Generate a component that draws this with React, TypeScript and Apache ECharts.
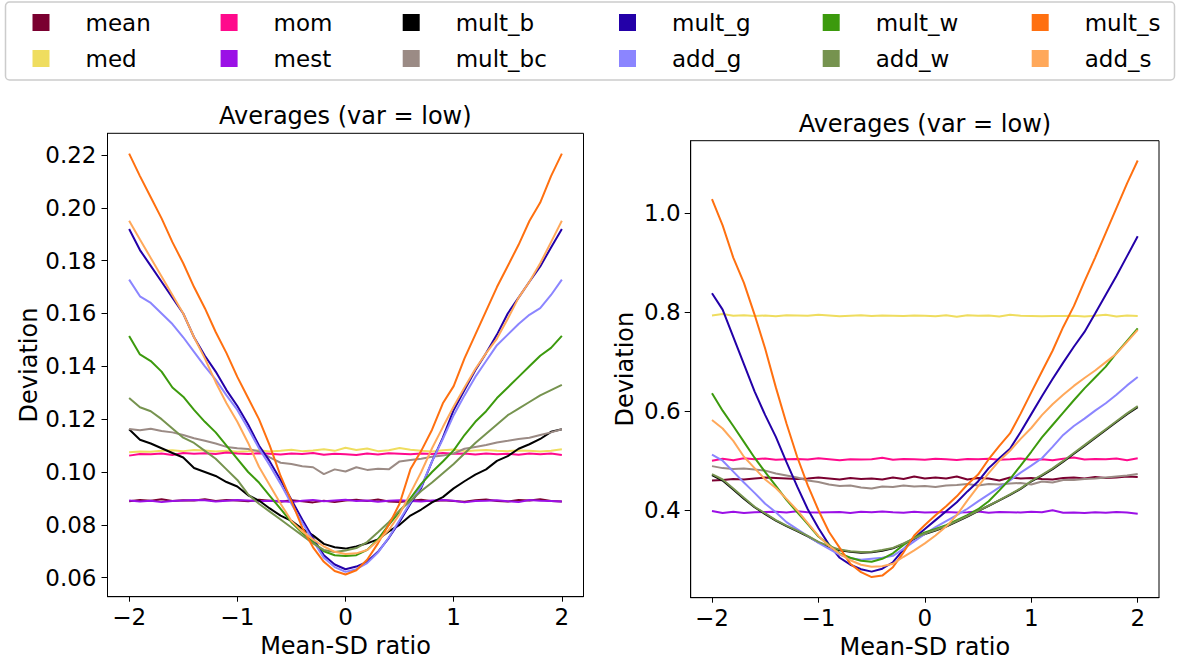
import React, { useEffect, useRef } from "react";
import * as echarts from "echarts";

const xs = [-2.0,-1.9,-1.8,-1.7,-1.6,-1.5,-1.4,-1.3,-1.2,-1.1,-1.0,-0.9,-0.8,-0.7,-0.6,-0.5,-0.4,-0.3,-0.2,-0.1,0.0,0.1,0.2,0.3,0.4,0.5,0.6,0.7,0.8,0.9,1.0,1.1,1.2,1.3,1.4,1.5,1.6,1.7,1.8,1.9,2.0];
const xTicks = [-2, -1, 0, 1, 2];
const yTicksLeft = [0.06, 0.08, 0.1, 0.12, 0.14, 0.16, 0.18, 0.2, 0.22];
const yTicksRight = [0.4, 0.6, 0.8, 1.0];

const seriesNames = ["mean","med","mom","mest","mult_b","mult_bc","mult_g","add_g","mult_w","add_w","mult_s","add_s"];
const seriesColors = ["#7a0030","#efdd5f","#ff0a8c","#9b10e6","#000000","#9b8b85","#2300a8","#8b85ff","#3c9a0d","#76934f","#ff7010","#ffa85a"];
const legendColumns = [["mean","med"],["mom","mest"],["mult_b","mult_bc"],["mult_g","add_g"],["mult_w","add_w"],["mult_s","add_s"]];
const titleText = "Averages (var = low)";
const xName = "Mean-SD ratio";
const yName = "Deviation";

// ---- left panel ----
const meanL = [0.0889,0.0894,0.0891,0.0897,0.0890,0.0893,0.0892,0.0897,0.0890,0.0894,0.0892,0.0889,0.0895,0.0891,0.0887,0.0893,0.0889,0.0885,0.0891,0.0886,0.0892,0.0895,0.0890,0.0896,0.0888,0.0886,0.0891,0.0895,0.0889,0.0893,0.0890,0.0887,0.0893,0.0896,0.0890,0.0888,0.0894,0.0892,0.0897,0.0890,0.0888];
const medL = [0.1075,0.1078,0.1077,0.1080,0.1082,0.1079,0.1083,0.1081,0.1078,0.1080,0.1077,0.1079,0.1082,0.1078,0.1080,0.1084,0.1079,0.1081,0.1086,0.1080,0.1092,0.1083,0.1089,0.1079,0.1082,0.1091,0.1084,0.1080,0.1078,0.1082,0.1085,0.1079,0.1081,0.1083,0.1080,0.1079,0.1081,0.1080,0.1078,0.1080,0.1086];
const momL = [0.1062,0.1068,0.1067,0.1070,0.1064,0.1072,0.1069,0.1071,0.1068,0.1074,0.1070,0.1068,0.1071,0.1069,0.1066,0.1070,0.1068,0.1072,0.1065,0.1069,0.1067,0.1064,0.1070,0.1066,0.1071,0.1069,0.1067,0.1070,0.1068,0.1072,0.1069,0.1070,0.1066,0.1070,0.1067,0.1069,0.1065,0.1070,0.1067,0.1070,0.1064];
const mestL = [0.0892,0.0888,0.0891,0.0886,0.0890,0.0892,0.0894,0.0893,0.0888,0.0891,0.0894,0.0892,0.0889,0.0891,0.0890,0.0886,0.0891,0.0894,0.0889,0.0892,0.0895,0.0890,0.0892,0.0887,0.0891,0.0893,0.0890,0.0888,0.0892,0.0894,0.0891,0.0885,0.0890,0.0891,0.0893,0.0889,0.0886,0.0894,0.0891,0.0890,0.0888];
const multBL = [0.1162,0.1122,0.1108,0.1090,0.1072,0.1055,0.1015,0.1000,0.0985,0.0962,0.0945,0.0912,0.0892,0.0862,0.0835,0.0815,0.0785,0.0760,0.0728,0.0715,0.0710,0.0718,0.0730,0.0745,0.0775,0.0800,0.0835,0.0858,0.0885,0.0905,0.0938,0.0965,0.0990,0.1010,0.1042,0.1060,0.1088,0.1105,0.1125,0.1152,0.1162];
const multBcL = [0.1163,0.1158,0.1164,0.1155,0.1150,0.1140,0.1128,0.1118,0.1108,0.1095,0.1090,0.1087,0.1078,0.1055,0.1035,0.1030,0.1022,0.1018,0.0992,0.1010,0.1002,0.1018,0.1008,0.1012,0.1010,0.1040,0.1045,0.1050,0.1058,0.1062,0.1070,0.1088,0.1095,0.1102,0.1112,0.1118,0.1125,0.1130,0.1140,0.1150,0.1162];
const multGL = [0.1920,0.1840,0.1780,0.1720,0.1660,0.1600,0.1510,0.1440,0.1380,0.1310,0.1250,0.1180,0.1100,0.1040,0.0970,0.0895,0.0820,0.0750,0.0685,0.0650,0.0632,0.0642,0.0660,0.0698,0.0750,0.0812,0.0880,0.0940,0.1040,0.1130,0.1235,0.1310,0.1385,0.1450,0.1520,0.1600,0.1660,0.1720,0.1778,0.1850,0.1920];
const addGL = [0.1728,0.1665,0.1640,0.1600,0.1560,0.1510,0.1455,0.1400,0.1350,0.1290,0.1235,0.1165,0.1090,0.1025,0.0955,0.0880,0.0808,0.0740,0.0675,0.0640,0.0622,0.0632,0.0655,0.0695,0.0752,0.0818,0.0885,0.0945,0.1040,0.1125,0.1215,0.1290,0.1360,0.1420,0.1480,0.1520,0.1560,0.1595,0.1620,0.1670,0.1728];
const multWL = [0.1515,0.1445,0.1420,0.1380,0.1320,0.1285,0.1235,0.1190,0.1150,0.1100,0.1050,0.1000,0.0960,0.0910,0.0860,0.0810,0.0770,0.0735,0.0700,0.0685,0.0682,0.0685,0.0705,0.0745,0.0800,0.0850,0.0900,0.0955,0.1000,0.1040,0.1082,0.1140,0.1190,0.1230,0.1280,0.1320,0.1360,0.1400,0.1440,0.1470,0.1515];
const addWL = [0.1280,0.1245,0.1230,0.1200,0.1165,0.1130,0.1110,0.1080,0.1050,0.1010,0.0970,0.0915,0.0880,0.0850,0.0820,0.0790,0.0760,0.0730,0.0705,0.0697,0.0703,0.0712,0.0735,0.0772,0.0810,0.0855,0.0890,0.0928,0.0960,0.0995,0.1030,0.1070,0.1110,0.1145,0.1180,0.1215,0.1240,0.1265,0.1290,0.1310,0.1330];
const multSL = [0.2205,0.2120,0.2040,0.1960,0.1870,0.1790,0.1700,0.1620,0.1530,0.1450,0.1360,0.1280,0.1200,0.1100,0.0985,0.0890,0.0790,0.0715,0.0660,0.0625,0.0612,0.0628,0.0668,0.0730,0.0800,0.0880,0.1010,0.1080,0.1160,0.1260,0.1325,0.1430,0.1520,0.1610,0.1700,0.1780,0.1860,0.1950,0.2020,0.2120,0.2205];
const addSL = [0.1951,0.1880,0.1810,0.1740,0.1670,0.1600,0.1510,0.1430,0.1340,0.1260,0.1190,0.1110,0.1020,0.0950,0.0880,0.0815,0.0775,0.0745,0.0718,0.0698,0.0690,0.0692,0.0705,0.0740,0.0780,0.0840,0.0920,0.1000,0.1090,0.1170,0.1248,0.1320,0.1390,0.1450,0.1505,0.1580,0.1660,0.1720,0.1790,0.1870,0.1951];

// ---- right panel ----
const meanR = [0.4600,0.4610,0.4630,0.4620,0.4640,0.4660,0.4650,0.4640,0.4630,0.4640,0.4660,0.4640,0.4620,0.4650,0.4630,0.4640,0.4620,0.4660,0.4630,0.4680,0.4640,0.4660,0.4640,0.4680,0.4620,0.4650,0.4640,0.4600,0.4660,0.4640,0.4650,0.4630,0.4620,0.4650,0.4660,0.4640,0.4670,0.4650,0.4660,0.4680,0.4670];
const medR = [0.7930,0.7960,0.7925,0.7935,0.7920,0.7930,0.7915,0.7935,0.7930,0.7925,0.7945,0.7930,0.7915,0.7925,0.7935,0.7920,0.7930,0.7925,0.7920,0.7930,0.7925,0.7915,0.7935,0.7905,0.7935,0.7925,0.7930,0.7910,0.7945,0.7925,0.7920,0.7915,0.7920,0.7920,0.7925,0.7910,0.7925,0.7945,0.7910,0.7930,0.7920];
const momR = [0.5000,0.5040,0.5010,0.5050,0.5030,0.5045,0.5020,0.5030,0.5035,0.5025,0.5050,0.5030,0.5010,0.5030,0.5025,0.5030,0.5060,0.5020,0.5035,0.5030,0.5020,0.5040,0.5030,0.5015,0.5035,0.5030,0.5040,0.5020,0.5030,0.5045,0.5020,0.5030,0.5010,0.5040,0.5065,0.5025,0.5035,0.5030,0.5045,0.5010,0.5050];
const mestR = [0.3985,0.3945,0.3970,0.3945,0.3960,0.3965,0.3970,0.3955,0.3980,0.3960,0.3955,0.3960,0.3965,0.3945,0.3970,0.3960,0.3975,0.3960,0.3950,0.3970,0.3955,0.3960,0.3965,0.3955,0.3960,0.3975,0.3950,0.3965,0.3960,0.3955,0.3970,0.3960,0.4000,0.3950,0.3955,0.3945,0.3960,0.3950,0.3965,0.3955,0.3930];
const multBR = [0.4710,0.4600,0.4420,0.4230,0.4060,0.3920,0.3790,0.3680,0.3580,0.3470,0.3350,0.3260,0.3190,0.3160,0.3140,0.3150,0.3180,0.3230,0.3320,0.3420,0.3520,0.3590,0.3670,0.3770,0.3870,0.3980,0.4090,0.4200,0.4310,0.4430,0.4580,0.4700,0.4830,0.4980,0.5140,0.5300,0.5460,0.5620,0.5780,0.5940,0.6080];
const multBcR = [0.4890,0.4850,0.4830,0.4840,0.4820,0.4800,0.4740,0.4700,0.4660,0.4600,0.4570,0.4520,0.4490,0.4500,0.4460,0.4440,0.4480,0.4470,0.4500,0.4480,0.4490,0.4470,0.4500,0.4510,0.4530,0.4500,0.4530,0.4520,0.4540,0.4550,0.4520,0.4580,0.4560,0.4610,0.4610,0.4630,0.4640,0.4660,0.4680,0.4700,0.4730];
const multGR = [0.8380,0.8050,0.7500,0.6950,0.6400,0.5920,0.5480,0.4970,0.4480,0.4020,0.3640,0.3300,0.3040,0.2900,0.2810,0.2760,0.2820,0.2950,0.3210,0.3440,0.3620,0.3800,0.3980,0.4160,0.4380,0.4580,0.4850,0.5050,0.5240,0.5580,0.5940,0.6300,0.6650,0.6980,0.7300,0.7600,0.7970,0.8350,0.8730,0.9130,0.9530];
const addGR = [0.5120,0.5000,0.4780,0.4560,0.4350,0.4130,0.3960,0.3760,0.3620,0.3480,0.3340,0.3220,0.3100,0.3030,0.3000,0.3020,0.3040,0.3080,0.3220,0.3370,0.3520,0.3660,0.3780,0.3900,0.4030,0.4180,0.4320,0.4460,0.4600,0.4760,0.4900,0.5050,0.5280,0.5520,0.5700,0.5850,0.6010,0.6160,0.6330,0.6520,0.6690];
const multWR = [0.6360,0.6010,0.5700,0.5380,0.5060,0.4770,0.4490,0.4210,0.3960,0.3720,0.3470,0.3300,0.3130,0.3040,0.2980,0.2960,0.3020,0.3130,0.3300,0.3450,0.3550,0.3620,0.3700,0.3800,0.3900,0.4020,0.4180,0.4400,0.4630,0.4900,0.5180,0.5470,0.5720,0.5970,0.6220,0.6460,0.6680,0.6900,0.7170,0.7420,0.7670];
const addWR = [0.4730,0.4620,0.4440,0.4250,0.4070,0.3935,0.3800,0.3690,0.3590,0.3480,0.3360,0.3275,0.3205,0.3170,0.3155,0.3160,0.3195,0.3240,0.3330,0.3430,0.3530,0.3600,0.3680,0.3780,0.3880,0.3985,0.4095,0.4205,0.4320,0.4440,0.4590,0.4715,0.4845,0.4995,0.5155,0.5315,0.5475,0.5635,0.5795,0.5955,0.6100];
const multSR = [1.0280,0.9750,0.9100,0.8590,0.7950,0.7260,0.6480,0.5750,0.5080,0.4500,0.4000,0.3560,0.3240,0.2920,0.2750,0.2650,0.2680,0.2850,0.3150,0.3490,0.3700,0.3900,0.4080,0.4280,0.4520,0.4720,0.5030,0.5300,0.5550,0.5950,0.6380,0.6800,0.7220,0.7700,0.8120,0.8620,0.9100,0.9600,1.0100,1.0600,1.1060];
const addSR = [0.5820,0.5650,0.5400,0.5080,0.4850,0.4620,0.4450,0.4230,0.4000,0.3740,0.3480,0.3280,0.3120,0.2990,0.2900,0.2860,0.2870,0.2920,0.3060,0.3190,0.3330,0.3490,0.3670,0.3900,0.4200,0.4480,0.4750,0.5000,0.5200,0.5440,0.5660,0.5920,0.6140,0.6330,0.6510,0.6670,0.6820,0.6990,0.7160,0.7400,0.7640];

const leftSeries = [meanL, medL, momL, mestL, multBL, multBcL, multGL, addGL, multWL, addWL, multSL, addSL];
const rightSeries = [meanR, medR, momR, mestR, multBR, multBcR, multGR, addGR, multWR, addWR, multSR, addSR];

const FONT = "DejaVu Sans";
const legendLefts = [32.5, 220.6, 402.7, 619, 822.7, 1031.7];

const fmtX = (v: number) => (v < 0 ? "\u2212" + Math.abs(v) : String(v));

function xAxisCfg(gridIndex: number) {
  return {
    type: "value",
    gridIndex,
    min: -2.2,
    max: 2.2,
    axisLine: { show: true, onZero: false, lineStyle: { color: "#000", width: 1 } },
    axisTick: { show: true, customValues: xTicks, length: 5, lineStyle: { color: "#000", width: 1 } },
    axisLabel: { customValues: xTicks, formatter: fmtX, fontSize: 23, color: "#000", fontFamily: FONT, margin: 9 },
    splitLine: { show: false },
    name: xName,
    nameLocation: "middle",
    nameGap: 36,
    nameTextStyle: { fontSize: 24, color: "#000", fontFamily: FONT },
  };
}

function yAxisCfg(gridIndex: number, min: number, max: number, ticks: number[], digits: number, margin: number, nameGap: number) {
  return {
    type: "value",
    gridIndex,
    min,
    max,
    axisLine: { show: true, onZero: false, lineStyle: { color: "#000", width: 1 } },
    axisTick: { show: true, customValues: ticks, length: 6, lineStyle: { color: "#000", width: 1 } },
    axisLabel: { customValues: ticks, formatter: (v: number) => v.toFixed(digits), fontSize: 23, color: "#000", fontFamily: FONT, margin },
    splitLine: { show: false },
    name: yName,
    nameLocation: "middle",
    nameRotate: 90,
    nameGap,
    nameTextStyle: { fontSize: 24, color: "#000", fontFamily: FONT },
  };
}

export default function App() {
  const ref = useRef<HTMLDivElement>(null);
  useEffect(() => {
    if (!ref.current) return;
    const chart = echarts.init(ref.current, null, { renderer: "svg" });
    const series: any[] = [];
    seriesNames.forEach((name, k) => {
      [leftSeries, rightSeries].forEach((set, g) => {
        series.push({
          type: "line",
          name,
          xAxisIndex: g,
          yAxisIndex: g,
          data: xs.map((x, i) => [x, set[k][i]]),
          showSymbol: false,
          symbol: "none",
          color: seriesColors[k],
          lineStyle: { color: seriesColors[k], width: 2 },
          emphasis: { disabled: true },
          silent: true,
          z: 2,
        });
      });
    });
    const option: any = {
      animation: false,
      backgroundColor: "#fff",
      textStyle: { fontFamily: FONT },
      title: [
        { text: titleText, left: 345.3, top: 104, textAlign: "center", padding: 0, textStyle: { fontSize: 24, fontWeight: "normal", color: "#000", fontFamily: FONT, lineHeight: 24 } },
        { text: titleText, left: 924.9, top: 111.5, textAlign: "center", padding: 0, textStyle: { fontSize: 24, fontWeight: "normal", color: "#000", fontFamily: FONT, lineHeight: 24 } },
      ],
      graphic: [
        { type: "rect", silent: true, z: 0, shape: { x: 5.5, y: 2, width: 1169, height: 78, r: 4 }, style: { fill: "#fff", stroke: "#cccccc", lineWidth: 1.5 } },
      ],
      legend: legendColumns.map((col, c) => ({
        orient: "vertical",
        left: legendLefts[c],
        top: 11,
        padding: 0,
        itemWidth: 17,
        itemHeight: 17,
        itemGap: 13,
        icon: "rect",
        selectedMode: false,
        itemStyle: { borderWidth: 0 },
        textStyle: { fontSize: 23, color: "#000", fontFamily: FONT, padding: [0, 0, 0, 31], lineHeight: 17 },
        data: col.map((n) => ({ name: n, itemStyle: { color: seriesColors[seriesNames.indexOf(n)], borderWidth: 0 } })),
        z: 5,
      })),
      grid: [
        { left: 107.5, top: 133.3, width: 476, height: 463.4, show: true, borderColor: "#000", borderWidth: 1, backgroundColor: "transparent", containLabel: false, outerBoundsMode: "none" },
        { left: 690.7, top: 140.7, width: 468.3, height: 457, show: true, borderColor: "#000", borderWidth: 1, backgroundColor: "transparent", containLabel: false, outerBoundsMode: "none" },
      ],
      xAxis: [xAxisCfg(0), xAxisCfg(1)],
      yAxis: [
        yAxisCfg(0, 0.0528, 0.2282, yTicksLeft, 2, 11, 66),
        yAxisCfg(1, 0.2234, 1.146, yTicksRight, 1, 10, 54),
      ],
      series,
    };
    chart.setOption(option);
    return () => chart.dispose();
  }, []);
  return (
    <div
      ref={ref}
      style={{ position: "absolute", left: 0, top: 0, width: 1179, height: 663, background: "#fff" }}
    />
  );
}
